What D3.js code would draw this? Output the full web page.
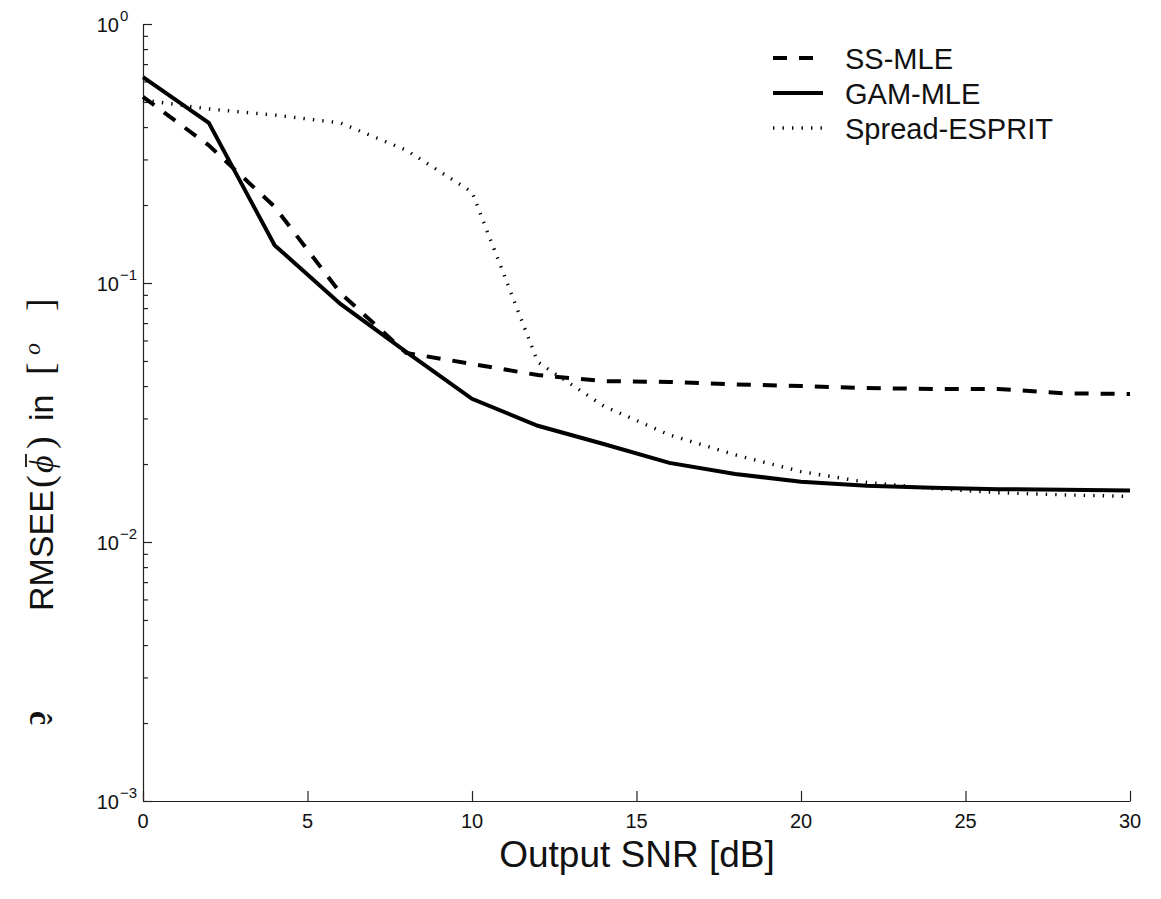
<!DOCTYPE html>
<html>
<head>
<meta charset="utf-8">
<script src="https://cdn.jsdelivr.net/npm/d3@7"></script>
<style>
  html, body { margin: 0; padding: 0; background: #fff; }
  svg { display: block; font-family: "Liberation Sans", Arial, Helvetica, sans-serif; }
</style>
</head>
<body>
<svg id="chart" width="1161" height="899"></svg>
<script>
// Output SNR in dB
const snr = [0, 2, 4, 6, 8, 10, 12, 14, 16, 18, 20, 22, 24, 26, 28, 30];

// RMSEE of the mean azimuth, degrees
const ssMle = [0.523, 0.34, 0.197, 0.0915, 0.0537, 0.0487, 0.0441, 0.0418, 0.0415,
               0.0406, 0.040, 0.0393, 0.039, 0.039, 0.0375, 0.0373];
const gamMle = [0.624, 0.415, 0.140, 0.083, 0.0542, 0.0357, 0.0281, 0.0239, 0.0202,
                0.0183, 0.0171, 0.0165, 0.0162, 0.0160, 0.0159, 0.0158];
const spreadEsprit = [0.509, 0.47, 0.445, 0.415, 0.326, 0.2245, 0.0495, 0.0335, 0.0259,
                      0.0217, 0.0187, 0.0170, 0.0161, 0.0155, 0.0152, 0.0150];

const xTicks = [0, 5, 10, 15, 20, 25, 30];
const yDecades = [0, -1, -2, -3];

const seriesNames = ["SS-MLE", "GAM-MLE", "Spread-ESPRIT"];

const svg = d3.select("#chart");
const plot = { left: 143, right: 1130, top: 24, bottom: 801 };

const x = d3.scaleLinear().domain([0, 30]).range([plot.left, plot.right]);
const y = d3.scaleLog().domain([1e-3, 1]).range([plot.bottom, plot.top]);

const styles = {
  "SS-MLE":        { width: 4,   dash: "14,12" },
  "GAM-MLE":       { width: 4,   dash: null },
  "Spread-ESPRIT": { width: 3.4, dash: "1.4,8.1" }
};
const data = {
  "SS-MLE": ssMle,
  "GAM-MLE": gamMle,
  "Spread-ESPRIT": spreadEsprit
};

// Axes: left (log) and bottom, ticks pointing inward
const minorTicks = [];
yDecades.forEach(e => {
  if (e === 0) return;
  for (let m = 2; m <= 9; m++) minorTicks.push(m * Math.pow(10, e));
});

const yAxis = d3.axisLeft(y)
  .tickValues(yDecades.map(e => Math.pow(10, e)))
  .tickSizeInner(-9).tickSizeOuter(0).tickFormat("");
const gy = svg.append("g").attr("transform", `translate(${plot.left},0)`).call(yAxis);

const yMinor = d3.axisLeft(y).tickValues(minorTicks).tickSizeInner(-5).tickSizeOuter(0).tickFormat("");
const gym = svg.append("g").attr("transform", `translate(${plot.left},0)`).call(yMinor);
gym.select(".domain").remove();

const xAxis = d3.axisBottom(x).tickValues(xTicks).tickSizeInner(-10).tickSizeOuter(0).tickFormat("");
const gx = svg.append("g").attr("transform", `translate(0,${plot.bottom})`).call(xAxis);

[gy, gym, gx].forEach(g => {
  g.selectAll(".domain").attr("stroke", "#222").attr("stroke-width", 1.2);
  g.selectAll(".tick line").attr("stroke", "#222").attr("stroke-width", 1.2);
});

// y tick labels: 10^e
yDecades.forEach(e => {
  svg.append("text")
    .attr("x", 119)
    .attr("y", y(Math.pow(10, e)) + 8)
    .attr("text-anchor", "end")
    .attr("font-size", 20)
    .attr("fill", "#111")
    .text("10");
  svg.append("text")
    .attr("x", 120)
    .attr("y", y(Math.pow(10, e)) - 3)
    .attr("font-size", 15)
    .attr("fill", "#111")
    .text(e === 0 ? "0" : "\u2212" + Math.abs(e));
});

// x tick labels
svg.append("g").selectAll("text").data(xTicks).join("text")
  .attr("x", d => x(d))
  .attr("y", 828)
  .attr("text-anchor", "middle")
  .attr("font-size", 20)
  .attr("fill", "#111")
  .text(d => d);

// Axis titles
svg.append("text")
  .attr("x", 637)
  .attr("y", 867)
  .attr("text-anchor", "middle")
  .attr("font-size", 37)
  .attr("fill", "#111")
  .text("Output SNR [dB]");

// y title, laid out piece by piece along the rotated baseline
const serif = "Liberation Serif, DejaVu Serif, serif";
const yg = svg.append("g").attr("transform", "translate(53,611) rotate(-90)").attr("fill", "#111");
const piece = (px, txt, opts = {}) => yg.append("text")
  .attr("x", px)
  .attr("y", opts.dy || 0)
  .attr("font-size", opts.size || 34)
  .attr("font-family", opts.family || null)
  .attr("font-style", opts.italic ? "italic" : null)
  .text(txt);
piece(0, "RMSEE");
piece(123, "(", { family: serif, size: 38 });
piece(138, "\u03D5", { family: serif, italic: true, size: 34 });
yg.append("line").attr("x1", 144).attr("x2", 157).attr("y1", -27).attr("y2", -27)
  .attr("stroke", "#111").attr("stroke-width", 1.8);
piece(162, ")", { family: serif, size: 38 });
piece(190, "in");
piece(236, "[", { family: serif, size: 38 });
piece(256, "o", { family: serif, italic: true, size: 24, dy: -13 });
piece(300, "]", { family: serif, size: 38 });

// Curves
const line = d3.line()
  .x((d, i) => x(snr[i]))
  .y(d => y(d));

seriesNames.forEach(name => {
  const s = styles[name];
  svg.append("path")
    .datum(data[name])
    .attr("fill", "none")
    .attr("stroke", "#000")
    .attr("stroke-width", s.width)
    .attr("stroke-linejoin", "miter")
    .attr("stroke-dasharray", s.dash)
    .attr("d", line);
});

// Legend
const legendRows = [58, 93, 128];
seriesNames.forEach((name, i) => {
  const s = styles[name];
  svg.append("line")
    .attr("x1", 773).attr("x2", 823)
    .attr("y1", legendRows[i]).attr("y2", legendRows[i])
    .attr("stroke", "#000")
    .attr("stroke-width", s.width)
    .attr("stroke-dasharray", s.dash);
  svg.append("text")
    .attr("x", 845)
    .attr("y", legendRows[i] + 11)
    .attr("font-size", 29)
    .attr("fill", "#111")
    .text(name);
});

// stray glyph fragment at the left margin
svg.append("text")
  .attr("transform", "translate(30,718) rotate(90)")
  .attr("font-size", 32)
  .attr("font-weight", "bold")
  .attr("font-family", serif)
  .attr("text-anchor", "middle")
  .attr("fill", "#111")
  .text("\u0109");
</script>
</body>
</html>
